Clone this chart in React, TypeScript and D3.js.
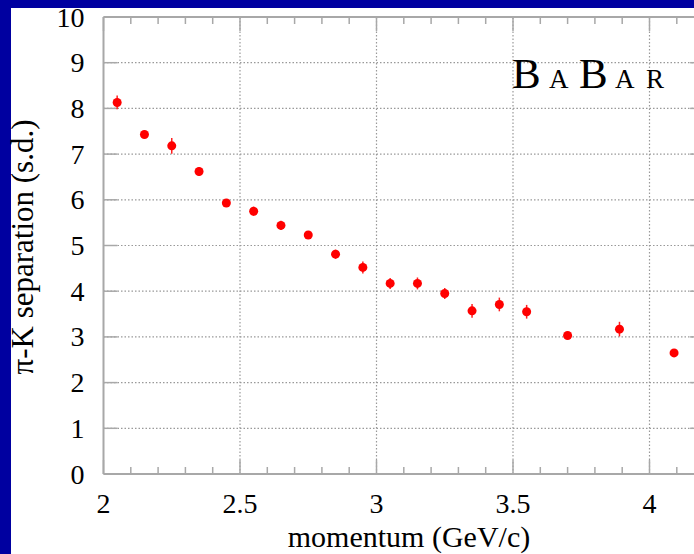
import React, { useRef, useEffect } from "react";
import * as d3 from "d3";

// pi-K separation vs momentum (BABAR DIRC)
const momentum = [2.05, 2.15, 2.25, 2.35, 2.45, 2.55, 2.65, 2.75, 2.85, 2.95, 3.05, 3.15, 3.25, 3.35, 3.45, 3.55, 3.7, 3.89, 4.09];
const separation = [8.13, 7.43, 7.18, 6.62, 5.93, 5.75, 5.44, 5.23, 4.81, 4.52, 4.17, 4.17, 3.95, 3.57, 3.71, 3.55, 3.03, 3.17, 2.65];
const errors = [0.15, 0.08, 0.17, 0.1, 0.06, 0.1, 0.1, 0.07, 0.1, 0.13, 0.12, 0.13, 0.12, 0.15, 0.15, 0.15, 0.05, 0.16, 0.06];
const xTicks = [2, 2.5, 3, 3.5, 4];
const yTicks = [0, 1, 2, 3, 4, 5, 6, 7, 8, 9, 10];
const logo = [
  { ch: "B", big: true },
  { ch: "A", big: false },
  { ch: "B", big: true },
  { ch: "A", big: false },
  { ch: "R", big: false },
];

const W = 694;
const H = 554;
const serif = "'Liberation Serif', 'DejaVu Serif', serif";

const App = () => {
  const svgRef = useRef<SVGSVGElement>(null);

  useEffect(() => {
    const svg = d3.select(svgRef.current);
    svg.selectAll("*").remove();

    const margin = { top: 17, left: 103.5, bottom: 80 };
    const x = d3.scaleLinear().domain([2, 4.2]).range([margin.left, margin.left + 273 * 2.2]);
    const y = d3.scaleLinear().domain([0, 10]).range([H - margin.bottom, margin.top]);
    const axisColor = "#a8a8a8";

    // frame
    svg.append("rect").attr("width", W).attr("height", H).attr("fill", "#0000a0");
    svg.append("rect").attr("x", 11).attr("y", 8).attr("width", W - 11).attr("height", H - 8).attr("fill", "#fff");

    const x0 = x(2), x1 = x(4.2), y0 = y(0), y1 = y(10);

    // grid
    const grid = svg.append("g").attr("stroke", "#999").attr("stroke-width", 1.2).attr("stroke-dasharray", "1.5,2");
    grid.selectAll("line.h")
      .data(yTicks.filter(d => d > 0 && d < 10))
      .join("line")
      .attr("x1", x0).attr("x2", x1)
      .attr("y1", d => y(d)).attr("y2", d => y(d));
    grid.selectAll("line.v")
      .data(xTicks.filter(d => d > 2))
      .join("line")
      .attr("y1", y0).attr("y2", y1)
      .attr("x1", d => x(d)).attr("x2", d => x(d));

    // axes frame
    const ax = svg.append("g").attr("stroke", axisColor).attr("fill", "none");
    ax.append("line").attr("x1", x0).attr("x2", x1).attr("y1", y0).attr("y2", y0).attr("stroke-width", 2);
    ax.append("line").attr("x1", x0).attr("x2", x1).attr("y1", y1).attr("y2", y1).attr("stroke-width", 2);
    ax.append("line").attr("x1", x0).attr("x2", x0).attr("y1", y0).attr("y2", y1).attr("stroke-width", 2);

    // x ticks (minor 0.1, major 0.5), bottom and top
    const minor = d3.range(20, 43).map(d => d / 10);
    minor.forEach(v => {
      const major = Math.abs(v * 2 - Math.round(v * 2)) < 1e-6;
      const len = major ? 14 : 7;
      ax.append("line").attr("x1", x(v)).attr("x2", x(v)).attr("y1", y0).attr("y2", y0 - len).attr("stroke-width", 1.5);
      ax.append("line").attr("x1", x(v)).attr("x2", x(v)).attr("y1", y1).attr("y2", y1 + len).attr("stroke-width", 1.5);
    });
    // y ticks, left and right
    yTicks.forEach(v => {
      ax.append("line").attr("x1", x0).attr("x2", x0 + 14).attr("y1", y(v)).attr("y2", y(v)).attr("stroke-width", 1.5);
      ax.append("line").attr("x1", x1).attr("x2", x1 - 14).attr("y1", y(v)).attr("y2", y(v)).attr("stroke-width", 1.5);
    });

    // tick labels
    svg.append("g")
      .selectAll("text")
      .data(yTicks)
      .join("text")
      .attr("x", x0 - 19)
      .attr("y", d => y(d))
      .attr("dy", "0.34em")
      .attr("text-anchor", "end")
      .attr("font-family", serif)
      .attr("font-size", 28)
      .text(d => d);
    svg.append("g")
      .selectAll("text")
      .data(xTicks)
      .join("text")
      .attr("x", d => x(d))
      .attr("y", y0 + 39)
      .attr("text-anchor", "middle")
      .attr("font-family", serif)
      .attr("font-size", 28)
      .text(d => d);

    // axis titles
    svg.append("text")
      .attr("x", 409)
      .attr("y", 547)
      .attr("text-anchor", "middle")
      .attr("font-family", serif)
      .attr("font-size", 30)
      .text("momentum (GeV/c)");
    svg.append("text")
      .attr("transform", "translate(33,247) rotate(-90)")
      .attr("text-anchor", "middle")
      .attr("font-family", serif)
      .attr("font-size", 31)
      .text("π-K separation (s.d.)");

    // error bars + points
    const pts = momentum.map((m, i) => ({ m, s: separation[i], e: errors[i] }));
    svg.append("g")
      .selectAll("line")
      .data(pts)
      .join("line")
      .attr("x1", d => x(d.m)).attr("x2", d => x(d.m))
      .attr("y1", d => y(d.s - d.e)).attr("y2", d => y(d.s + d.e))
      .attr("stroke", "#ff2020")
      .attr("stroke-width", 1.5);
    svg.append("g")
      .selectAll("circle")
      .data(pts)
      .join("circle")
      .attr("cx", d => x(d.m))
      .attr("cy", d => y(d.s))
      .attr("r", 4.5)
      .attr("fill", "#ff0000");

    // BABAR logo
    const lt = svg.append("text")
      .attr("y", 88)
      .attr("font-family", serif)
      .attr("fill", "#000");
    const xs = [512, 549, 579, 615, 646];
    logo.forEach((l, i) => {
      lt.append("tspan")
        .attr("x", xs[i])
        .attr("font-size", l.big ? 43 : 27)
        .text(l.ch);
    });
  }, []);

  return (
    <svg
      ref={svgRef}
      width={W}
      height={H}
      style={{ position: "absolute", left: 0, top: 0, display: "block" }}
    />
  );
};

export default App;
